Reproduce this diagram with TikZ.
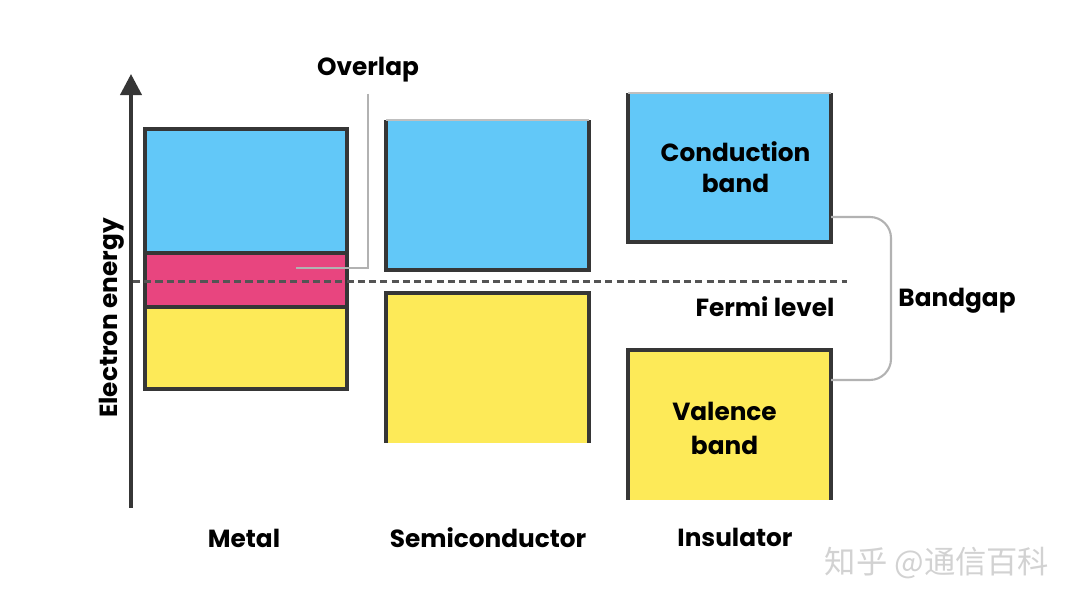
\documentclass[tikz,border=0pt]{standalone}
\usepackage{fontspec}
\setmainfont{Poppins}
\newfontfamily\cjk{Noto Sans CJK SC}
\usetikzlibrary{arrows.meta,positioning}

\definecolor{condblue}{HTML}{62C8F8}
\definecolor{overpink}{HTML}{E8457F}
\definecolor{valyellow}{HTML}{FDEA58}
\definecolor{edgegray}{HTML}{363636}

\begin{document}
\begin{tikzpicture}[
  band/.style={rectangle, inner sep=0pt, outer sep=0pt, minimum width=2.02cm, anchor=north west,
    draw=edgegray, line width=0.9pt},
  bandfill/.style={rectangle, inner sep=0pt, outer sep=0pt, minimum width=2.03cm, anchor=north west},
  edge/.style={draw=edgegray, line width=0.9pt},
  lead/.style={draw=gray!60, line width=0.6pt},
  label/.style={font=\fontsize{7.05}{8.5}\selectfont\bfseries, text=black, inner sep=1pt},
]
\useasboundingbox (0,0) rectangle (10.8,6.07);

% energy axis
\coordinate (axisfoot) at (1.31,0.99);
\coordinate (axistop) at (1.31,5.33);
\draw[edgegray, line width=1.1pt, -{Triangle[width=6pt,length=6pt]}] (axisfoot) -- (axistop);
\node[label, rotate=90] (energy) at (1.12,2.89) {Electron energy};

% metal
\node[band, fill=condblue, minimum height=1.24cm] (metalcb) at (1.45,4.78) {};
\node[band, fill=overpink, minimum height=0.54cm, below=0pt of metalcb] (metalov) {};
\node[band, fill=valyellow, minimum height=0.82cm, below=0pt of metalov] (metalvb) {};

% semiconductor
\node[bandfill, fill=condblue, minimum height=1.50cm] (semicb) at (3.86,4.87) {};
\node[bandfill, fill=valyellow, minimum height=1.50cm] (semivb) at (3.86,3.14) {};
\draw[edge] (semicb.north west) -- (semicb.south west) -- (semicb.south east) -- (semicb.north east);
\draw[gray!50, line width=0.5pt] (semicb.north west) -- (semicb.north east);
\draw[edge] (semivb.south west) -- (semivb.north west) -- (semivb.north east) -- (semivb.south east);

% insulator
\node[bandfill, fill=condblue, minimum height=1.49cm] (inscb) at (6.28,5.14) {};
\node[bandfill, fill=valyellow, minimum height=1.50cm] (insvb) at (6.28,2.57) {};
\draw[edge] (inscb.north west) -- (inscb.south west) -- (inscb.south east) -- (inscb.north east);
\draw[gray!50, line width=0.5pt] (inscb.north west) -- (inscb.north east);
\draw[edge] (insvb.south west) -- (insvb.north west) -- (insvb.north east) -- (insvb.south east);
\node[label, align=center] (condtext) at ([xshift=0.06cm]inscb.center) {Conduction\\[0.3pt]band};
\node[label, align=center] (valtext) at ([xshift=-0.05cm,yshift=-0.03cm]insvb.center) {Valence\\[1.2pt]band};

% fermi level
\coordinate (fermistart) at (1.33,3.25);
\coordinate (fermiend) at (8.47,3.25);
\draw[draw=edgegray!85, line width=0.85pt, dash pattern=on 2pt off 1.2pt] (fermistart) -- (fermiend);
\node[label] (fermi) at (7.65,3.00) {Fermi level};

% overlap marker
\node[label] (overlap) at (3.68,5.37) {Overlap};
\coordinate (ovend) at (2.96,3.39);
\draw[lead, shorten <=2pt] (overlap.south) |- (ovend);

% bandgap bracket
\node[label] (bandgap) at (9.57,3.06) {Bandgap};
\draw[lead, rounded corners=6pt] ([yshift=0.25cm]inscb.south east) -- ++(0.6,0)
  |- ([yshift=-0.30cm]insvb.north east);

% material names
\node[label] (metal) at (2.44,0.69) {Metal};
\node[label] (semi) at (4.88,0.69) {Semiconductor};
\node[label] (ins) at (7.35,0.70) {Insulator};

% watermark
\node[font=\cjk\fontsize{8.9}{10}\selectfont, text=gray!35] (mark) at (9.37,0.44) {知乎 @通信百科};

\end{tikzpicture}
\end{document}
